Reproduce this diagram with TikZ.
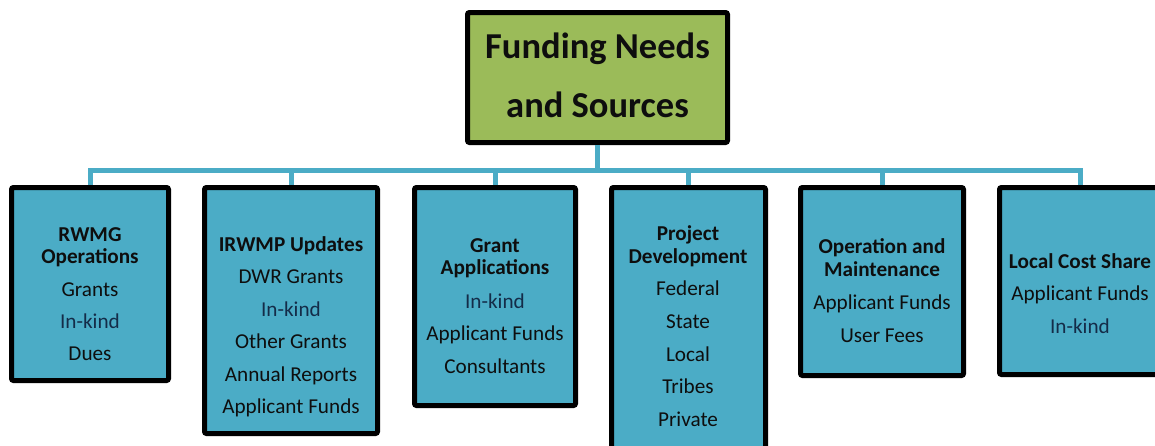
\documentclass[tikz,border=0pt]{standalone}
\usepackage{fontspec}
\setmainfont{Carlito}
\definecolor{topgreen}{HTML}{9BBB59}
\definecolor{boxblue}{HTML}{4BACC6}
\definecolor{txt}{HTML}{0E0E0E}
\definecolor{navytxt}{HTML}{142C48}
\tikzset{
  topbox/.style={draw=black, fill=topgreen, line width=5pt, rounded corners=2pt, inner sep=0pt},
  subbox/.style={draw=black, fill=boxblue, line width=5pt, rounded corners=2pt, inner sep=0pt},
  conn/.style={draw=boxblue, line width=5pt},
  titletxt/.style={font=\fontsize{36.5}{40}\selectfont\bfseries, text=txt, inner sep=0pt, anchor=base},
  headtxt/.style={font=\fontsize{21.2}{24}\selectfont\bfseries, text=txt, inner sep=0pt, anchor=base},
  itemtxt/.style={font=\fontsize{21.2}{24}\selectfont, text=txt, inner sep=0pt, anchor=base},
  kindtxt/.style={itemtxt, text=navytxt},
}
\newcommand\tline[4]{\node[#1] (#2) at (#3) {#4};}
\begin{document}
\begin{tikzpicture}[x=1pt,y=-1pt]
\useasboundingbox (0,0) rectangle (1155,445);
\clip (0,0) rectangle (1155,445);
% boxes
\node[topbox, minimum width=260pt, minimum height=130pt] (top) at (597.5,77.5) {};
\node[subbox, minimum width=157pt, minimum height=193pt] (b1) at (90,284) {};
\node[subbox, minimum width=173pt, minimum height=246pt] (b2) at (291,310.5) {};
\node[subbox, minimum width=161pt, minimum height=218pt] (b3) at (495,296.5) {};
\node[subbox, minimum width=154pt, minimum height=280pt] (b4) at (688.5,327.5) {};
\node[subbox, minimum width=163pt, minimum height=188pt] (b5) at (882,281.5) {};
\node[subbox, minimum width=161pt, minimum height=187pt] (b6) at (1080,281) {};
% connectors
\coordinate (bus) at (597.5,170);
\draw[conn] (top.south) -- (bus);
\foreach \b in {b1,b2,b3,b4,b5,b6}{
  \draw[conn] (bus) -| (\b.north);
}
% title
\tline{titletxt}{t1}{597.5,58}{Funding Needs}
\tline{titletxt}{t2}{597.5,117}{and Sources}
% box 1
\tline{headtxt}{a1}{90,241}{RWMG}
\tline{headtxt}{a2}{90,263}{Operations}
\tline{itemtxt}{a3}{90,296}{Grants}
\tline{kindtxt}{a4}{90,328}{In-kind}
\tline{itemtxt}{a5}{90,360}{Dues}
% box 2
\tline{headtxt}{c1}{291,251}{IRWMP Updates}
\tline{itemtxt}{c2}{291,283}{DWR Grants}
\tline{kindtxt}{c3}{291,316}{In-kind}
\tline{itemtxt}{c4}{291,348}{Other Grants}
\tline{itemtxt}{c5}{291,381}{Annual Reports}
\tline{itemtxt}{c6}{291,413}{Applicant Funds}
% box 3
\tline{headtxt}{d1}{495,252}{Grant}
\tline{headtxt}{d2}{495,274}{Applications}
\tline{kindtxt}{d3}{495,308}{In-kind}
\tline{itemtxt}{d4}{495,340}{Applicant Funds}
\tline{itemtxt}{d5}{495,373}{Consultants}
% box 4
\tline{headtxt}{e1}{688,240}{Project}
\tline{headtxt}{e2}{688,263}{Development}
\tline{itemtxt}{e3}{688,295}{Federal}
\tline{itemtxt}{e4}{688,328}{State}
\tline{itemtxt}{e5}{688,361}{Local}
\tline{itemtxt}{e6}{688,393}{Tribes}
\tline{itemtxt}{e7}{688,426}{Private}
% box 5
\tline{headtxt}{f1}{882,253}{Operation and}
\tline{headtxt}{f2}{882,276}{Maintenance}
\tline{itemtxt}{f3}{882,309}{Applicant Funds}
\tline{itemtxt}{f4}{882,342}{User Fees}
% box 6
\tline{headtxt}{g1}{1080,268}{Local Cost Share}
\tline{itemtxt}{g2}{1080,300}{Applicant Funds}
\tline{kindtxt}{g3}{1080,333}{In-kind}
\end{tikzpicture}
\end{document}
